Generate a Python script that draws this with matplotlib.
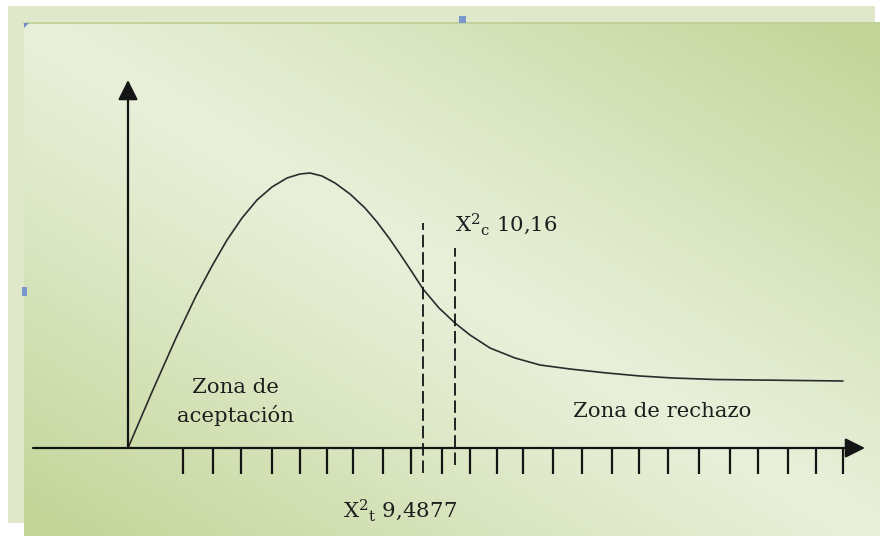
import matplotlib
matplotlib.use("Agg")
import matplotlib.pyplot as plt
from matplotlib.patches import Rectangle
import numpy as np

# chart units: 1 unit = 10 px, origin where the two axes cross
CURVE_X = [0, 2.4, 4.8, 6.8, 8.4, 9.9, 11.4, 12.9, 14.4, 15.9, 17.2, 18.2,
           19.4, 20.7, 22.2, 23.7, 24.9, 26.1, 27.2, 28.4, 29.5, 31.1, 32.7,
           34.2, 36.2, 38.7, 41.2, 44.2, 47.9, 51.2, 54.5, 58.7, 62.9, 67.2, 71.5]
CURVE_Y = [0, 5.6, 11.0, 15.2, 18.2, 20.8, 23.0, 24.8, 26.1, 27.0, 27.4, 27.5,
           27.2, 26.5, 25.4, 24.0, 22.6, 21.0, 19.4, 17.6, 15.9, 14.0, 12.5,
           11.3, 10.0, 9.0, 8.3, 7.9, 7.5, 7.2, 7.0, 6.85, 6.8, 6.75, 6.7]
TICKS = [5.5, 8.5, 11.3, 14.4, 17.2, 19.9, 22.5, 25.5, 28.3, 31.4, 34.2, 36.9,
         39.5, 42.5, 45.4, 48.4, 51.1, 54.0, 57.1, 60.2, 63.0, 66.0, 68.8, 71.5]
CHI_TABLE = 9.4877
CHI_CALC = 10.16
CRIT_X = [29.5, 32.7]          # dashed line positions for table / calculated
CRIT_TOP = [22.5, 20.0]
CRIT_BOTTOM = [-2.5, -1.7]
X_AXIS = (-9.5, 73.7)
Y_AXIS_TOP = 36.8

LABEL_ACCEPT = "Zona de\naceptación"
LABEL_REJECT = "Zona de rechazo"

INK = "#141414"
TEXT = "#1e1e1e"
plt.rcParams['lines.scale_dashes'] = False
plt.rcParams['mathtext.fontset'] = 'dejavuserif'


def background(ax):
    ax.set_xlim(0, 880)
    ax.set_ylim(536, 0)
    ax.axis('off')
    ax.add_patch(Rectangle((8, 6), 867, 517, color='#dfe8cb', lw=0))
    # front panel: light along the main diagonal, greener at the other corners
    w, h = 856, 514
    xx, yy = np.meshgrid(np.linspace(0, 1, w), np.linspace(0, 1, h))
    u = np.clip(np.abs(xx - yy) * 1.05, 0, 1) ** 1.15
    light = np.array([232, 240, 218]) / 255
    green = np.array([195, 213, 152]) / 255
    img = light + u[..., None] * (green - light)
    ax.imshow(img, extent=(24, 880, 536, 22), aspect='auto', zorder=1)
    ax.plot([24, 880], [22.5, 22.5], color='#bccf95', lw=1.2, zorder=2)
    # selection handles
    ax.add_patch(Rectangle((459, 16), 7, 7, color='#7b98cc', lw=0, zorder=3))
    ax.add_patch(Rectangle((22, 287), 5, 9, color='#7b98cc', lw=0, zorder=3))
    ax.add_patch(plt.Polygon([[24, 23], [29, 23], [24, 28]], color='#6f8cc4',
                             lw=0, zorder=3))


def main():
    fig = plt.figure(figsize=(8.8, 5.36), dpi=100)
    bg = fig.add_axes([0, 0, 1, 1])
    background(bg)

    ax = fig.add_axes([0, 0, 1, 1])
    ax.patch.set_alpha(0)
    ax.set_xlim(-12.8, 75.2)
    ax.set_ylim(-8.8, 44.8)
    ax.axis('off')

    arrow = dict(arrowstyle='-|>,head_length=0.4,head_width=0.2', color=INK,
                 lw=1.6, mutation_scale=30, shrinkA=0, shrinkB=0)
    ax.annotate('', xy=(0, Y_AXIS_TOP), xytext=(0, 0), arrowprops=arrow)
    ax.annotate('', xy=(X_AXIS[1], 0), xytext=(X_AXIS[0], 0), arrowprops=arrow)

    ax.vlines(TICKS, -2.6, 0, color=INK, lw=1.6)
    ax.plot(CURVE_X, CURVE_Y, color='#2b2b2b', lw=1.2, solid_joinstyle='round',
            solid_capstyle='round')
    ax.vlines(CRIT_X, CRIT_BOTTOM, CRIT_TOP, color=INK, lw=1.3,
              linestyles=[(0, (9, 3.5))])

    font = dict(family='DejaVu Serif', size=15.3, color=TEXT)
    ax.text(10.7, 2.6, LABEL_ACCEPT, ha='center', va='baseline',
            linespacing=1.45, **font)
    ax.text(44.5, 3.1, LABEL_REJECT, ha='left', va='baseline', **font)
    ax.text(CRIT_X[1], 21.7,
            r'$\mathrm{X}^{2}{}_{\mathrm{c}}$ ' + '{0:.2f}'.format(CHI_CALC).replace('.', ','),
            ha='left', va='baseline', **font)
    ax.text(21.5, -6.9,
            r'$\mathrm{X}^{2}{}_{\mathrm{t}}$ ' + '{0:.4f}'.format(CHI_TABLE).replace('.', ','),
            ha='left', va='baseline', **font)

    fig.savefig('out.png', dpi=100)
    plt.close(fig)


if __name__ == "__main__":
    main()
